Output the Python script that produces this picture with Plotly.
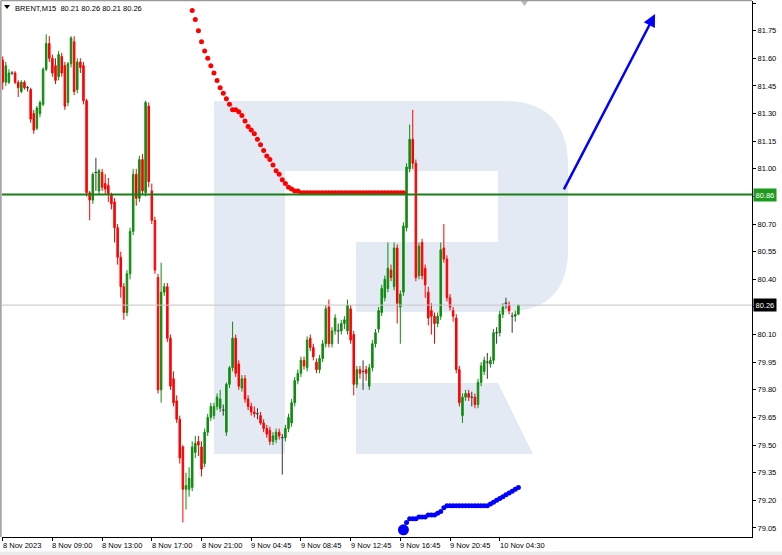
import plotly.graph_objects as go

# ---------------- data (BRENT, M15) ----------------
opens = [
    81.59, 81.47, 81.47, 81.52, 81.52, 81.47, 81.42, 81.47, 81.44, 81.43,
    81.30, 81.22, 81.30, 81.35, 81.54, 81.68, 81.60, 81.56, 81.50, 81.61,
    81.56, 81.36, 81.57, 81.69, 81.43, 81.58, 81.56, 81.37, 80.87, 80.83,
    80.98, 80.88, 80.98, 80.92, 80.91, 80.86, 80.82, 80.68, 80.52, 80.36,
    80.22, 80.43, 80.66, 80.97, 80.84, 81.05, 80.87, 81.34, 80.88, 80.72,
    80.41, 79.80, 80.33, 80.36, 80.08, 79.86, 79.74, 79.64, 79.49, 79.26,
    79.26, 79.27, 79.46, 79.52, 79.49, 79.40, 79.57, 79.65, 79.66, 79.71,
    79.70, 79.69, 79.57, 79.83, 79.92, 80.08, 79.94, 79.81, 79.86, 79.75,
    79.71, 79.68, 79.67, 79.66, 79.62, 79.59, 79.58, 79.52, 79.53, 79.57,
    79.54, 79.54, 79.59, 79.62, 79.73, 79.85, 79.89, 79.96, 79.92, 80.08,
    80.03, 79.95, 79.91, 79.97, 80.05, 80.25, 80.05, 80.12, 80.12, 80.12,
    80.16, 80.12, 80.24, 80.10, 79.83, 79.91, 79.90, 79.91, 79.82, 79.92,
    80.05, 80.13, 80.22, 80.30, 80.35, 80.45, 80.36, 80.57, 80.25, 80.33,
    80.68, 81.00, 81.16, 81.03, 80.42, 80.60, 80.46, 80.33, 80.23, 80.20,
    80.16, 80.20, 80.57, 80.51, 80.30, 80.23, 80.19, 79.91, 79.66, 79.76,
    79.78, 79.76, 79.76, 79.72, 79.84, 79.90, 79.95, 79.94, 79.96, 80.11,
    80.11, 80.21, 80.27, 80.26, 80.20, 80.20, 80.21,
]
highs = [
    81.61, 81.58, 81.54, 81.53, 81.53, 81.48, 81.48, 81.48, 81.45, 81.44,
    81.32, 81.34, 81.37, 81.55, 81.73, 81.72, 81.62, 81.60, 81.64, 81.63,
    81.58, 81.58, 81.72, 81.72, 81.60, 81.60, 81.58, 81.38, 80.88, 80.98,
    81.06, 81.00, 81.00, 80.97, 80.95, 80.87, 80.84, 80.70, 80.55, 80.38,
    80.45, 80.68, 81.00, 81.00, 81.07, 81.08, 81.37, 81.36, 80.92, 80.74,
    80.43, 80.49, 80.38, 80.38, 80.10, 79.90, 79.77, 79.66, 79.50, 79.35,
    79.38, 79.52, 79.55, 79.55, 79.52, 79.59, 79.67, 79.73, 79.73, 79.78,
    79.80, 79.72, 79.84, 79.93, 80.17, 80.10, 79.96, 79.88, 79.88, 79.77,
    79.73, 79.71, 79.70, 79.68, 79.64, 79.61, 79.60, 79.57, 79.59, 79.59,
    79.56, 79.61, 79.67, 79.75, 79.87, 79.91, 79.98, 79.98, 80.09, 80.10,
    80.05, 79.97, 79.99, 80.07, 80.26, 80.29, 80.14, 80.21, 80.16, 80.18,
    80.20, 80.29, 80.26, 80.12, 79.93, 79.93, 79.96, 79.93, 79.94, 80.07,
    80.13, 80.25, 80.37, 80.42, 80.60, 80.48, 80.60, 80.59, 80.34, 80.71,
    81.03, 81.24, 81.32, 81.05, 80.60, 80.62, 80.48, 80.36, 80.27, 80.22,
    80.22, 80.60, 80.70, 80.53, 80.32, 80.25, 80.21, 79.93, 79.78, 79.80,
    79.80, 79.79, 79.78, 79.86, 79.95, 79.98, 80.00, 79.98, 80.13, 80.14,
    80.23, 80.27, 80.30, 80.28, 80.22, 80.23, 80.26,
]
lows = [
    81.43, 81.45, 81.46, 81.51, 81.46, 81.39, 81.41, 81.43, 81.42, 81.25,
    81.19, 81.21, 81.28, 81.34, 81.53, 81.58, 81.50, 81.46, 81.48, 81.50,
    81.32, 81.34, 81.55, 81.40, 81.41, 81.52, 81.35, 80.85, 80.72, 80.81,
    80.88, 80.86, 80.88, 80.86, 80.82, 80.78, 80.60, 80.48, 80.30, 80.18,
    80.20, 80.40, 80.64, 80.80, 80.82, 80.86, 80.85, 80.90, 80.70, 80.43,
    79.78, 79.73, 80.31, 80.06, 79.80, 79.71, 79.62, 79.40, 79.08, 79.15,
    79.22, 79.25, 79.43, 79.44, 79.33, 79.38, 79.55, 79.63, 79.64, 79.69,
    79.68, 79.66, 79.55, 79.81, 79.90, 79.87, 79.80, 79.79, 79.73, 79.69,
    79.66, 79.65, 79.64, 79.61, 79.57, 79.54, 79.50, 79.50, 79.51, 79.53,
    79.34, 79.52, 79.57, 79.60, 79.71, 79.83, 79.87, 79.91, 79.90, 80.01,
    79.96, 79.89, 79.89, 79.95, 80.03, 80.03, 80.03, 80.10, 80.05, 80.10,
    80.13, 80.10, 80.05, 79.77, 79.81, 79.86, 79.80, 79.85, 79.80, 79.90,
    80.03, 80.11, 80.20, 80.28, 80.33, 80.39, 80.34, 80.16, 80.05, 80.31,
    80.66, 80.98, 81.00, 80.39, 80.40, 80.40, 80.30, 80.15, 80.10, 80.05,
    80.14, 80.18, 80.49, 80.28, 80.23, 80.17, 79.89, 79.71, 79.62, 79.74,
    79.74, 79.71, 79.70, 79.70, 79.82, 79.88, 79.86, 79.92, 79.94, 80.05,
    80.09, 80.19, 80.24, 80.21, 80.11, 80.17, 80.21,
]
closes = [
    81.47, 81.56, 81.52, 81.52, 81.47, 81.44, 81.47, 81.44, 81.44, 81.27,
    81.21, 81.33, 81.36, 81.54, 81.68, 81.60, 81.52, 81.48, 81.62, 81.52,
    81.34, 81.57, 81.71, 81.42, 81.58, 81.55, 81.37, 80.87, 80.83, 80.97,
    80.98, 80.99, 80.90, 80.89, 80.86, 80.81, 80.68, 80.52, 80.36, 80.22,
    80.43, 80.66, 80.97, 80.84, 81.05, 80.88, 81.36, 80.93, 80.72, 80.45,
    79.80, 80.33, 80.36, 80.08, 79.82, 79.73, 79.64, 79.43, 79.26, 79.28,
    79.32, 79.49, 79.51, 79.50, 79.37, 79.57, 79.65, 79.71, 79.71, 79.76,
    79.75, 79.69, 79.83, 79.92, 80.08, 79.89, 79.82, 79.86, 79.75, 79.71,
    79.68, 79.67, 79.67, 79.62, 79.59, 79.56, 79.52, 79.55, 79.57, 79.55,
    79.54, 79.59, 79.65, 79.73, 79.85, 79.89, 79.96, 79.93, 80.07, 80.03,
    79.98, 79.91, 79.97, 80.05, 80.24, 80.05, 80.12, 80.19, 80.12, 80.16,
    80.18, 80.26, 80.07, 79.83, 79.91, 79.89, 79.90, 79.89, 79.92, 80.05,
    80.11, 80.23, 80.35, 80.40, 80.46, 80.41, 80.57, 80.27, 80.32, 80.69,
    81.01, 81.16, 81.03, 80.41, 80.58, 80.42, 80.37, 80.19, 80.20, 80.16,
    80.20, 80.56, 80.51, 80.30, 80.25, 80.20, 79.91, 79.73, 79.76, 79.78,
    79.76, 79.76, 79.72, 79.84, 79.93, 79.96, 79.95, 79.96, 80.11, 80.11,
    80.21, 80.25, 80.27, 80.23, 80.20, 80.21, 80.26,
]

# red dotted indicator (starts at bar 61)
red_dots_start = 61
red_dots = [
    81.86, 81.81, 81.75, 81.69, 81.64, 81.60, 81.56, 81.52, 81.48, 81.44,
    81.41, 81.38, 81.35, 81.32, 81.32, 81.31, 81.29, 81.26, 81.23, 81.21,
    81.19, 81.16, 81.13, 81.10, 81.07, 81.05, 81.02, 80.99, 80.97, 80.94,
    80.92, 80.90, 80.89, 80.88, 80.88,
    80.87, 80.87, 80.87, 80.87, 80.87, 80.87, 80.87, 80.87, 80.87, 80.87,
    80.87, 80.87, 80.87, 80.87, 80.87, 80.87, 80.87, 80.87, 80.87, 80.87,
    80.87, 80.87, 80.87, 80.87, 80.87, 80.87, 80.87, 80.87, 80.87, 80.87,
    80.87, 80.87, 80.87, 80.87,
]
# blue dotted indicator (starts at bar 129)
blue_dots_start = 129
blue_dots = [
    79.04, 79.08, 79.10, 79.10, 79.10, 79.11, 79.11, 79.11, 79.12, 79.12,
    79.12, 79.13, 79.14, 79.16, 79.17,
    79.17, 79.17, 79.17, 79.17, 79.17, 79.17, 79.17, 79.17, 79.17, 79.17,
    79.17, 79.17, 79.17,
    79.18, 79.19, 79.20, 79.21, 79.22, 79.23, 79.24, 79.25, 79.26, 79.27,
]

level_price = 80.86
last_price = 80.26
arrow_x = [180.4, 210.0]
arrow_y = [80.88, 81.84]

y_ticks = [79.05, 79.20, 79.35, 79.50, 79.65, 79.80, 79.95, 80.10, 80.25,
           80.40, 80.55, 80.70, 80.85, 81.00, 81.15, 81.30, 81.45, 81.60,
           81.75, 81.90]
# tick labels hidden behind the price boxes
y_hidden = [80.25, 80.85]
x_tick_bars = [0, 16, 32, 48, 64, 80, 96, 112, 128, 144, 160]
x_tick_labels = ["8 Nov 2023", "8 Nov 09:00", "8 Nov 13:00", "8 Nov 17:00",
                 "8 Nov 21:00", "9 Nov 04:45", "9 Nov 08:45", "9 Nov 12:45",
                 "9 Nov 16:45", "9 Nov 20:45", "10 Nov 04:30"]
title_text = "BRENT,M15\u00a0\u00a080.21 80.26 80.21 80.26"

# ---------------- layout geometry ----------------
W, H = 782, 555
ML, MR, MT, MB = 2, 30, 1, 18
PW, PH = W - ML - MR, H - MT - MB


def px(x):
    return (x - ML) / PW


def py(y):
    return (H - MB - y) / PH


GREEN = "#0f8c0f"
RED = "#ff0000"
DOJI = "#333333"
WM = "#e4eaf3"
FONT = "Liberation Sans, Arial, sans-serif"

n = len(closes)
bars = list(range(n))
body_i = [i for i in bars if opens[i] != closes[i]]
doji_i = [i for i in bars if opens[i] == closes[i]]

fig = go.Figure()

fig.add_trace(go.Candlestick(
    x=body_i,
    open=[opens[i] for i in body_i],
    high=[highs[i] for i in body_i],
    low=[lows[i] for i in body_i],
    close=[closes[i] for i in body_i],
    increasing=dict(line=dict(color=GREEN, width=1), fillcolor=GREEN),
    decreasing=dict(line=dict(color=RED, width=1), fillcolor=RED),
    whiskerwidth=0, showlegend=False, hoverinfo="skip",
))

dx, dy = [], []
for i in doji_i:
    dx += [i, i, None, i - 0.45, i + 0.45, None]
    dy += [lows[i], highs[i], None, opens[i], opens[i], None]
fig.add_trace(go.Scatter(x=dx, y=dy, mode="lines",
                         line=dict(color=DOJI, width=1),
                         showlegend=False, hoverinfo="skip"))

fig.add_trace(go.Scatter(
    x=[red_dots_start + k for k in range(len(red_dots))], y=red_dots,
    mode="markers", marker=dict(color=RED, size=5, line=dict(width=0)),
    showlegend=False, hoverinfo="skip"))

fig.add_trace(go.Scatter(
    x=[blue_dots_start + k for k in range(len(blue_dots))], y=blue_dots,
    mode="markers", marker=dict(color="#0000ff", size=5, line=dict(width=0)),
    showlegend=False, hoverinfo="skip"))
fig.add_trace(go.Scatter(
    x=[blue_dots_start], y=[blue_dots[0]],
    mode="markers", marker=dict(color="#0000ff", size=11, line=dict(width=0)),
    showlegend=False, hoverinfo="skip"))

shapes = []
# watermark "R"
p = lambda x, y: f"{px(x):.5f},{py(y):.5f}"
r_path = ("M " + p(214, 101) + " L " + p(503, 101) + " Q " + p(568, 101) + " " + p(568, 166)
          + " L " + p(568, 250) + " Q " + p(568, 312) + " " + p(503, 312)
          + " L " + p(356, 312) + " L " + p(356, 242) + " L " + p(498, 242)
          + " L " + p(498, 171) + " L " + p(285, 171) + " L " + p(285, 454)
          + " L " + p(214, 454) + " Z")
leg_path = ("M " + p(356, 383) + " L " + p(498, 383) + " L " + p(533, 454)
            + " L " + p(356, 454) + " Z")
for path in (r_path, leg_path):
    shapes.append(dict(type="path", path=path, xref="paper", yref="paper",
                       fillcolor=WM, line=dict(width=0), layer="below"))

# horizontal lines
shapes.append(dict(type="line", xref="paper", x0=0, x1=1, yref="y",
                   y0=last_price, y1=last_price,
                   line=dict(color="#c4c4c4", width=1), layer="above"))
shapes.append(dict(type="line", xref="paper", x0=0, x1=1, yref="y",
                   y0=level_price, y1=level_price,
                   line=dict(color="#1a7f1a", width=2), layer="above"))
# frame top / left (grey)
shapes.append(dict(type="line", xref="paper", yref="paper", x0=-0.002, x1=1,
                   y0=1.001, y1=1.001, line=dict(color="#9a9a9a", width=1.5)))
shapes.append(dict(type="line", xref="paper", yref="paper", x0=-0.0015, x1=-0.0015,
                   y0=0, y1=1, line=dict(color="#9a9a9a", width=1.5)))
# bottom window strip
shapes.append(dict(type="rect", xref="paper", yref="paper", x0=px(0), x1=px(W),
                   y0=py(H), y1=py(551.5), fillcolor="#ececec", line=dict(width=0)))
# title triangle and shift marker
shapes.append(dict(type="path", xref="paper", yref="paper",
                   path="M " + p(4, 5) + " L " + p(10, 5) + " L " + p(7, 9) + " Z",
                   fillcolor="#000000", line=dict(width=0)))
shapes.append(dict(type="path", xref="paper", yref="paper",
                   path="M " + p(521, 1) + " L " + p(528, 1) + " L " + p(524.5, 6) + " Z",
                   fillcolor="#b4b4b4", line=dict(width=0)))

annotations = []
annotations.append(dict(text=title_text, xref="paper", yref="paper",
                        x=px(13), y=py(8), xanchor="left", yanchor="middle",
                        showarrow=False, font=dict(family=FONT, size=7.5, color="#000")))
for b, lab in zip(x_tick_bars, x_tick_labels):
    annotations.append(dict(text=lab, xref="x", yref="paper", x=b, y=py(545.5),
                            xanchor="left", yanchor="middle", showarrow=False,
                            xshift=-2,
                            font=dict(family=FONT, size=7.5, color="#000")))
annotations.append(dict(text=f"{level_price:.2f}", xref="paper", yref="y", x=1,
                        y=level_price, xanchor="left", yanchor="middle", showarrow=False,
                        bgcolor="#1e9a1e", borderpad=1.5, xshift=1,
                        font=dict(family=FONT, size=7.5, color="#ffffff")))
annotations.append(dict(text=f"{last_price:.2f}", xref="paper", yref="y", x=1,
                        y=last_price, xanchor="left", yanchor="middle", showarrow=False,
                        bgcolor="#000000", borderpad=1.5, xshift=1,
                        font=dict(family=FONT, size=7.5, color="#ffffff")))
annotations.append(dict(x=arrow_x[1], y=arrow_y[1], ax=arrow_x[0], ay=arrow_y[0],
                        xref="x", yref="y", axref="x", ayref="y", text="",
                        showarrow=True, arrowhead=2, arrowsize=1.0, arrowwidth=2.5,
                        arrowcolor="#0000ff"))

fig.update_layout(
    width=W, height=H,
    margin=dict(l=ML, r=MR, t=MT, b=MB, pad=0),
    paper_bgcolor="#ffffff", plot_bgcolor="#ffffff",
    showlegend=False,
    shapes=shapes, annotations=annotations,
    xaxis=dict(range=[-0.225, 241.2], showgrid=False, zeroline=False,
               tickvals=x_tick_bars, ticks="outside", ticklen=3, tickcolor="#000",
               showticklabels=False, showline=True, linecolor="#000", linewidth=1,
               rangeslider=dict(visible=False), fixedrange=True),
    yaxis=dict(range=[79.001, 81.911], side="right", showgrid=False, zeroline=False,
               tickvals=y_ticks,
               ticktext=["" if v in y_hidden else f"{v:.2f}" for v in y_ticks],
               ticks="outside", ticklen=3, tickcolor="#000",
               tickfont=dict(family=FONT, size=7.5, color="#000"),
               showline=True, linecolor="#000", linewidth=1, fixedrange=True),
)

fig.write_html("out.html", config={"displayModeBar": False},
               post_script="document.body.style.margin='0';document.body.style.overflow='hidden';")
